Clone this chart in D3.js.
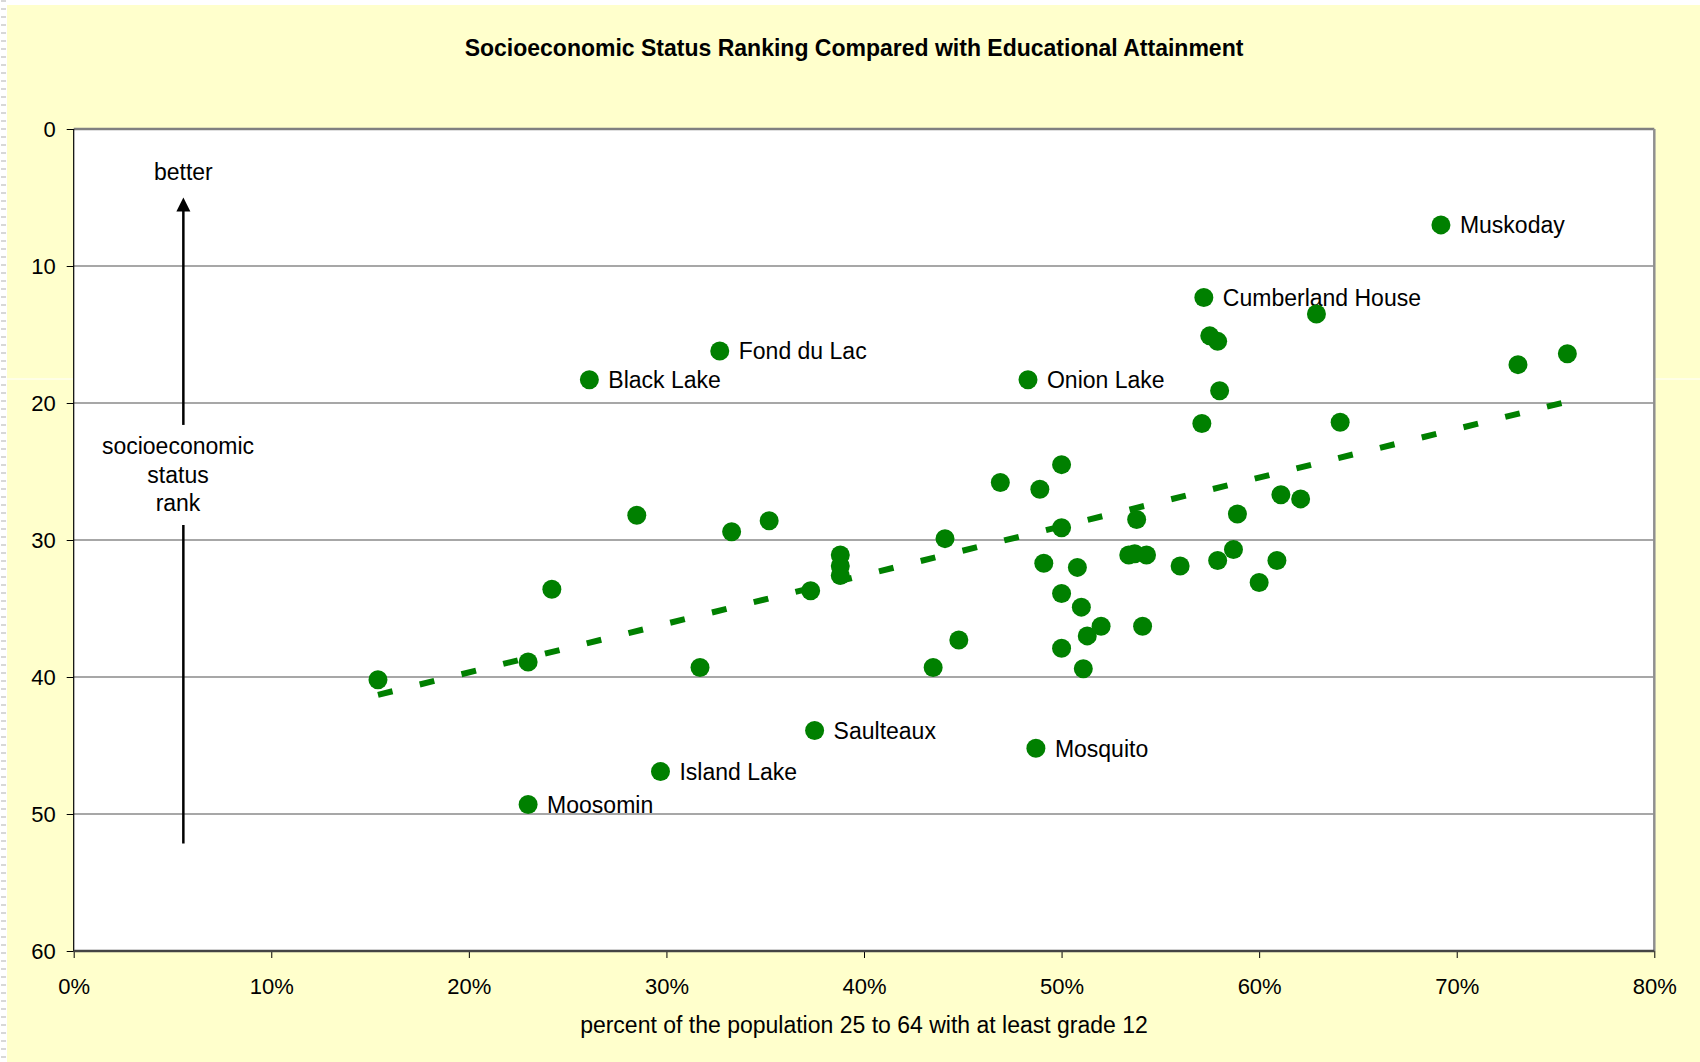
<!DOCTYPE html>
<html>
<head>
<meta charset="utf-8">
<script src="https://cdn.jsdelivr.net/npm/d3@7"></script>
<style>
  body { margin: 0; background: #ffffcc; }
  text { font-family: "Liberation Sans", Arial, sans-serif; fill: #000; }
</style>
</head>
<body>
<svg class="chart"></svg>
<script>
// percent of population 25-64 with at least grade 12, and socioeconomic rank
var pct  = [69.2, 57.2, 32.7, 26.1, 48.3, 37.5, 48.7, 29.7, 23.0,
            62.9, 57.5, 57.9, 73.1, 75.6, 58.0, 57.1, 64.1, 50.0, 46.9,
            48.9, 61.1, 62.1, 53.8, 58.9, 50.0, 28.5, 33.3, 35.2, 44.1,
            38.8, 38.8, 38.8, 24.2, 37.3, 53.4, 53.7, 54.3, 49.1, 50.8,
            56.0, 57.9, 58.7, 60.9, 60.0, 50.0, 51.0, 52.0, 51.3, 54.1,
            44.8, 43.5, 50.0, 51.1, 31.7, 23.0, 15.4];
var rank = [7.0, 12.3, 16.2, 18.3, 18.3, 43.9, 45.2, 46.9, 49.3,
            13.5, 15.1, 15.5, 17.2, 16.4, 19.1, 21.5, 21.4, 24.5, 25.8,
            26.3, 26.7, 27.0, 28.5, 28.1, 29.1, 28.2, 29.4, 28.6, 29.9,
            31.1, 31.9, 32.6, 33.6, 33.7, 31.1, 31.0, 31.1, 31.7, 32.0,
            31.9, 31.5, 30.7, 31.5, 33.1, 33.9, 34.9, 36.3, 37.0, 36.3,
            37.3, 39.3, 37.9, 39.4, 39.3, 38.9, 40.2];
var names = ["Muskoday", "Cumberland House", "Fond du Lac", "Black Lake", "Onion Lake",
             "Saulteaux", "Mosquito", "Island Lake", "Moosomin"];

// linear trend line ends
var trendX = [15.4, 75.6];
var trendY = [41.3, 19.9];

var xTicks = [0, 10, 20, 30, 40, 50, 60, 70, 80];
var yTicks = [0, 10, 20, 30, 40, 50, 60];

var width = 1700;
var height = 1062;
var plotL = 73.7, plotR = 1654.3, plotT = 129, plotB = 951;

var svg = d3.select(".chart").attr("width", width).attr("height", height);

// background + slide edge bits
svg.append("rect").attr("width", width).attr("height", height).attr("fill", "#ffffcc");
svg.append("rect").attr("width", width).attr("height", 5).attr("fill", "#ffffff");
svg.append("rect").attr("width", 7).attr("height", height).attr("fill", "#ffffff");
svg.append("line")
    .attr("x1", 3.5).attr("x2", 3.5).attr("y1", 0).attr("y2", height)
    .attr("stroke", "#d8d8d8").attr("stroke-width", 5)
    .attr("stroke-dasharray", "2,6");
svg.append("line")
    .attr("x1", 7).attr("x2", width).attr("y1", 379).attr("y2", 379)
    .attr("stroke", "#ffffff").attr("stroke-width", 1);

var x = d3.scaleLinear().domain([0, 80]).range([plotL, plotR]);
var y = d3.scaleLinear().domain([0, 60]).range([plotT, plotB]);

// plot area
svg.append("rect")
    .attr("x", plotL).attr("y", plotT)
    .attr("width", plotR - plotL).attr("height", plotB - plotT)
    .attr("fill", "#ffffff");

// gridlines
svg.append("g").selectAll("line")
    .data(yTicks.filter(function(d){ return d > 0 && d < 60; }))
    .join("line")
    .attr("x1", plotL).attr("x2", plotR)
    .attr("y1", function(d){ return y(d); })
    .attr("y2", function(d){ return y(d); })
    .attr("stroke", "#505050").attr("stroke-width", 1.2);

// top and right border
svg.append("line").attr("x1", plotL).attr("x2", plotR).attr("y1", plotT).attr("y2", plotT)
    .attr("stroke", "#808080").attr("stroke-width", 2.5);
svg.append("line").attr("x1", plotR).attr("x2", plotR).attr("y1", plotT).attr("y2", plotB)
    .attr("stroke", "#909090").attr("stroke-width", 2.5);

// axes
var yAxis = d3.axisLeft(y).tickValues(yTicks).tickSize(7).tickPadding(11);
var xAxis = d3.axisBottom(x).tickValues(xTicks).tickSize(7).tickPadding(20)
    .tickFormat(function(d){ return d + "%"; });

var gy = svg.append("g").attr("transform", "translate(" + plotL + ",0)").call(yAxis);
var gx = svg.append("g").attr("transform", "translate(0," + plotB + ")").call(xAxis);

gy.select(".domain").remove();
gx.select(".domain").remove();
gy.selectAll("line").attr("stroke", "#000");
gx.selectAll("line").attr("stroke", "#000");
gy.selectAll("text").style("font-size", "22px").style("font-family", "Liberation Sans, Arial, sans-serif");
gx.selectAll("text").style("font-size", "22px").style("font-family", "Liberation Sans, Arial, sans-serif");

svg.append("line").attr("x1", plotL).attr("x2", plotL).attr("y1", plotT).attr("y2", plotB)
    .attr("stroke", "#000").attr("stroke-width", 1.2);
svg.append("line").attr("x1", plotL).attr("x2", plotR).attr("y1", plotB).attr("y2", plotB)
    .attr("stroke", "#444444").attr("stroke-width", 2.5);

// trend line
svg.append("line")
    .attr("x1", x(trendX[0])).attr("y1", y(trendY[0]))
    .attr("x2", x(trendX[1])).attr("y2", y(trendY[1]))
    .attr("stroke", "#008000").attr("stroke-width", 6)
    .attr("stroke-dasharray", "15,28");

// points
var i = 0;
while (i < pct.length) {
  svg.append("circle")
    .attr("cx", x(pct[i]))
    .attr("cy", y(rank[i]))
    .attr("r", 9.5)
    .attr("fill", "#008000");
  if (i < names.length) {
    svg.append("text")
      .attr("x", x(pct[i]) + 19)
      .attr("y", y(rank[i]))
      .attr("dy", "0.36em")
      .style("font-size", "23px")
      .text(names[i]);
  }
  i += 1;
}

// "better" arrow annotation
var ax = x(5.55);
svg.append("text").attr("x", ax).attr("y", 172).attr("dy", "0.36em")
    .attr("text-anchor", "middle").style("font-size", "23px").text("better");
svg.append("line").attr("x1", ax).attr("x2", ax).attr("y1", y(21.6)).attr("y2", y(5) + 12)
    .attr("stroke", "#000").attr("stroke-width", 2.5);
svg.append("path")
    .attr("d", "M" + ax + "," + y(5) + " L" + (ax - 7) + "," + (y(5) + 14) + " L" + (ax + 7) + "," + (y(5) + 14) + " Z")
    .attr("fill", "#000");
svg.append("line").attr("x1", ax).attr("x2", ax).attr("y1", y(28.9)).attr("y2", y(52.15))
    .attr("stroke", "#000").attr("stroke-width", 2.5);
var rankLines = ["socioeconomic", "status", "rank"];
svg.append("g").selectAll("text").data(rankLines).join("text")
    .attr("x", 178)
    .attr("y", function(d, k){ return 445.6 + k * 28.7; })
    .attr("dy", "0.36em")
    .attr("text-anchor", "middle")
    .style("font-size", "23px")
    .text(function(d){ return d; });

// titles
svg.append("text")
    .attr("x", 854).attr("y", 48).attr("dy", "0.36em")
    .attr("text-anchor", "middle")
    .style("font-size", "23px").style("font-weight", "bold")
    .text("Socioeconomic Status Ranking Compared with Educational Attainment");

svg.append("text")
    .attr("x", 864).attr("y", 1024.5).attr("dy", "0.36em")
    .attr("text-anchor", "middle")
    .style("font-size", "23px")
    .text("percent of the population 25 to 64 with at least grade 12");
</script>
</body>
</html>
